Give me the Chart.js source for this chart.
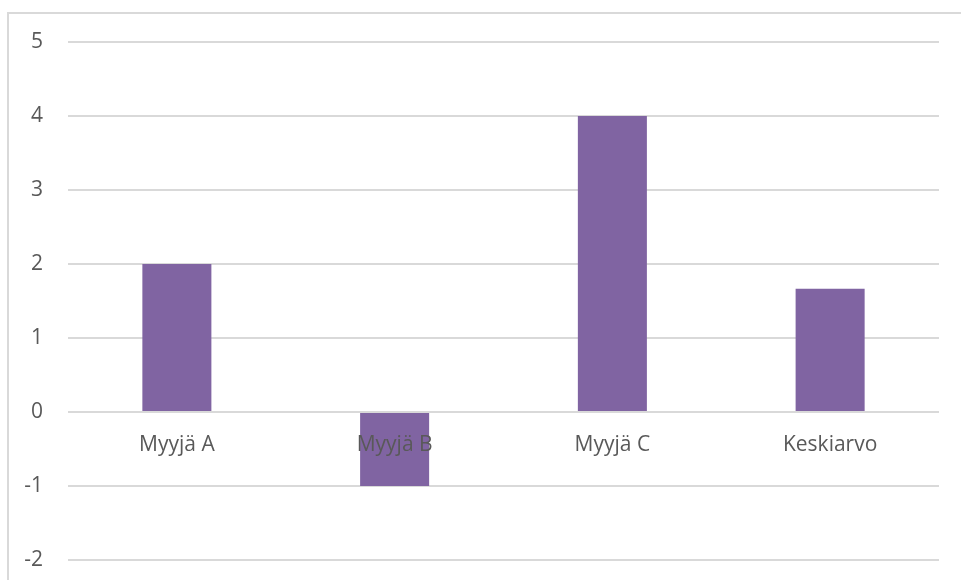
<!DOCTYPE html>
<html>
<head>
<meta charset="utf-8">
<script src="https://cdn.jsdelivr.net/npm/chart.js@4/dist/chart.umd.min.js"></script>
<style>
  html, body { margin: 0; padding: 0; background: #fff; overflow: hidden; }
  #frame {
    position: absolute; left: 7px; top: 12px; width: 1000px; height: 1000px;
    border-left: 2px solid #d9d9d9; border-top: 2px solid #d9d9d9;
  }
  #sales-chart { position: absolute; left: 0; top: 0; display: block; }
</style>
</head>
<body>
<div id="frame"></div>
<canvas id="sales-chart" width="961" height="580"></canvas>
<script>
// Sales figures per seller plus their average
const categories = ['Myyjä A', 'Myyjä B', 'Myyjä C', 'Keskiarvo']
const sellerValues = [2, -1, 4]
const average = sellerValues.reduce((a, b) => a + b, 0) / sellerValues.length
const values = [...sellerValues, average]

const yMin = -2
const yMax = 5

const labelColor = '#595959'
const gridColor = '#d9d9d9'
const barColor = '#8064A2'

Chart.defaults.font.family = '"Open Sans", sans-serif'
Chart.defaults.font.size = 21
Chart.defaults.color = labelColor

const config = {
  type: 'bar',
  data: {
    labels: categories,
    datasets: [{
      data: values,
      backgroundColor: barColor,
      borderWidth: 0,
      barPercentage: 0.317,
      categoryPercentage: 1
    }]
  },
  options: {
    responsive: false,
    animation: false,
    layout: {
      padding: { left: 0, top: 42, right: 22, bottom: 20 }
    },
    plugins: {
      legend: { display: false },
      tooltip: { enabled: false }
    },
    scales: {
      x: {
        // labels sit just under the zero line, drawn on top of the bars
        position: { y: 0 },
        grid: { display: false },
        border: { display: false },
        ticks: { padding: 12, color: labelColor, z: 1 },
        afterFit: scale => { scale.height = 0 }
      },
      y: {
        min: yMin,
        max: yMax,
        grid: { color: gridColor, lineWidth: 2, drawTicks: false },
        border: { display: false },
        ticks: { stepSize: 1, padding: 25, color: labelColor },
        afterFit: scale => {
          // tick padding would otherwise push the plot edges inward
          scale.width = 68
          scale.paddingTop = 0
          scale.paddingBottom = 0
        }
      }
    }
  }
}

new Chart(document.getElementById('sales-chart'), config)
</script>
</body>
</html>
